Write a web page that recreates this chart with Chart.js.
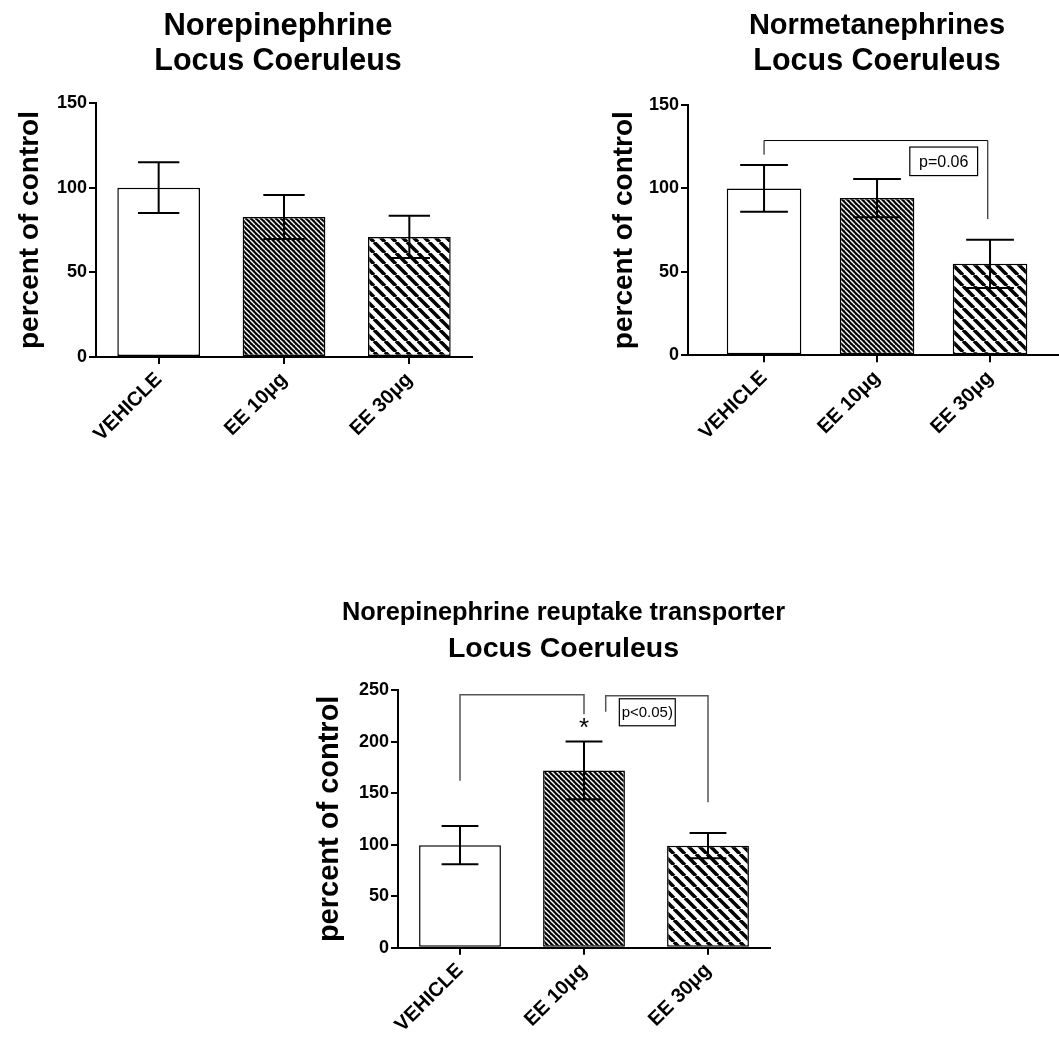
<!DOCTYPE html>
<html>
<head>
<meta charset="utf-8">
<script src="https://cdn.jsdelivr.net/npm/chart.js@4.4.1/dist/chart.umd.min.js"></script>
<style>
  html, body { margin: 0; padding: 0; background: #fff; overflow: hidden; width: 1059px; height: 1038px; }
  canvas { position: absolute; }
</style>
</head>
<body>
<canvas id="ne" width="556" height="460" style="left:0;top:0;width:556px;height:460px"></canvas>
<canvas id="nmn" width="554" height="460" style="left:600px;top:0;width:554px;height:460px"></canvas>
<canvas id="net" width="527" height="448" style="left:300px;top:590px;width:527px;height:448px"></canvas>
<script>
    "use strict";

    // groups on the x axis
    const groups = ['VEHICLE', 'EE 10μg', 'EE 30μg'];

    // Norepinephrine, locus coeruleus (% of control, mean and SEM)
    const neMean = [100, 82.7, 70.9];
    const neSem = [15, 13, 12.5];

    // Normetanephrines, locus coeruleus
    const nmnMean = [100, 94.2, 54.8];
    const nmnSem = [14, 11.5, 14.5];

    // Norepinephrine reuptake transporter, locus coeruleus
    const netMean = [99.5, 172, 99];
    const netSem = [18.5, 28, 12.3];

    // y ticks
    const yTicksTop = [0, 50, 100, 150];
    const yTicksBottom = [0, 50, 100, 150, 200, 250];

    // significance marks, in data units: [xFrom, xTo, yTop, yLeftEnd, yRightEnd]
    const nmnBrackets = [[0, 1.98, 128.7, 120.2, 81.6]];
    const nmnNote = [1.29, 1.89, 124.8, 107.7, 'p=0.06'];
    const netBrackets = [[0, 1, 245.4, 162, 226.4], [1.175, 2, 244.5, 228.9, 141]];
    const netNote = [1.285, 1.736, 241.5, 215.3, 'p<0.05)'];
    const netStar = [1, 212, '*'];

    const FONT = "'Liberation Sans', Arial, sans-serif";
    Chart.defaults.font.family = FONT;
    Chart.defaults.color = '#000';

    // hatch fills
    function stripes(size, width, bg, fg) {
        const c = document.createElement('canvas');
        c.width = c.height = size;
        const g = c.getContext('2d');
        g.fillStyle = bg;
        g.fillRect(0, 0, size, size);
        g.strokeStyle = fg;
        g.lineWidth = width;
        g.beginPath();
        for (let k = -1; k <= 1; k++) {
            g.moveTo(k * size, 0);
            g.lineTo(k * size + size, size);
        }
        g.stroke();
        return g.createPattern(c, 'repeat');
    }
    const fills = ['#ffffff', stripes(5, 1.4, '#000', '#fff'), stripes(11, 3.6, '#fff', '#000')];

    // SEM whiskers
    function errorBars(means, sems, capRatio) {
        return {
            id: 'errorBars',
            afterDatasetsDraw(chart) {
                const ctx = chart.ctx;
                const y = chart.scales.y;
                ctx.save();
                ctx.strokeStyle = '#000';
                ctx.lineWidth = 2;
                chart.getDatasetMeta(0).data.forEach(function (bar, i) {
                    const hi = y.getPixelForValue(means[i] + sems[i]);
                    const lo = y.getPixelForValue(means[i] - sems[i]);
                    const half = bar.width * capRatio / 2;
                    ctx.beginPath();
                    ctx.moveTo(bar.x, hi); ctx.lineTo(bar.x, lo);
                    ctx.moveTo(bar.x - half, hi); ctx.lineTo(bar.x + half, hi);
                    ctx.moveTo(bar.x - half, lo); ctx.lineTo(bar.x + half, lo);
                    ctx.stroke();
                });
                ctx.restore();
            }
        };
    }

    // brackets, p value box and asterisk
    function marks(brackets, note, star, style) {
        return {
            id: 'marks',
            afterDraw(chart) {
                const ctx = chart.ctx;
                const x = chart.scales.x, y = chart.scales.y;
                ctx.save();
                ctx.strokeStyle = style.line;
                ctx.lineWidth = style.width;
                brackets.forEach(function (b) {
                    const x1 = x.getPixelForValue(b[0]), x2 = x.getPixelForValue(b[1]);
                    ctx.beginPath();
                    ctx.moveTo(x1, y.getPixelForValue(b[3]));
                    ctx.lineTo(x1, y.getPixelForValue(b[2]));
                    ctx.lineTo(x2, y.getPixelForValue(b[2]));
                    ctx.lineTo(x2, y.getPixelForValue(b[4]));
                    ctx.stroke();
                });
                if (note) {
                    const l = x.getPixelForValue(note[0]), r = x.getPixelForValue(note[1]);
                    const t = y.getPixelForValue(note[2]), b = y.getPixelForValue(note[3]);
                    ctx.strokeStyle = '#000';
                    ctx.lineWidth = 1.2;
                    ctx.strokeRect(l, t, r - l, b - t);
                    ctx.fillStyle = '#000';
                    ctx.font = style.noteSize + 'px ' + FONT;
                    ctx.textAlign = 'center';
                    ctx.textBaseline = 'middle';
                    ctx.fillText(note[4], (l + r) / 2, (t + b) / 2 + 1);
                }
                if (star) {
                    ctx.fillStyle = '#000';
                    ctx.font = '26px ' + FONT;
                    ctx.textAlign = 'center';
                    ctx.textBaseline = 'middle';
                    ctx.fillText(star[2], x.getPixelForValue(star[0]), y.getPixelForValue(star[1]));
                }
                ctx.restore();
            }
        };
    }

    function panel(id, p) {
        const axisLine = { display: true, color: '#000', width: 2 };
        const tickGrid = { display: true, offset: false, drawOnChartArea: false, drawTicks: true, tickLength: 7, color: '#000', lineWidth: 2 };
        return new Chart(document.getElementById(id), {
            type: 'bar',
            data: {
                datasets: [{
                    data: p.means.map(function (v, i) { return { x: i, y: v }; }),
                    backgroundColor: fills,
                    borderColor: '#000',
                    borderWidth: 1.5,
                    borderSkipped: false,
                    barPercentage: 0.66,
                    categoryPercentage: 1
                }]
            },
            options: {
                responsive: false,
                animation: false,
                layout: { padding: 0 },
                plugins: {
                    legend: { display: false },
                    tooltip: { enabled: false },
                    title: {
                        display: true,
                        text: p.title,
                        color: '#000',
                        font: { size: p.titleSize, weight: 'bold', lineHeight: '36px' },
                        padding: { top: p.titleTop, bottom: 0 }
                    },
                    subtitle: {
                        display: true,
                        text: 'Locus Coeruleus',
                        color: '#000',
                        font: { size: p.subSize, weight: 'bold', lineHeight: '36px' },
                        padding: { top: 0, bottom: p.subBottom }
                    }
                },
                scales: {
                    x: {
                        type: 'linear',
                        min: p.xMin,
                        max: p.xMax,
                        offset: false,
                        grid: tickGrid,
                        border: axisLine,
                        afterBuildTicks: function (s) { s.ticks = groups.map(function (g, i) { return { value: i }; }); },
                        ticks: {
                            autoSkip: false,
                            minRotation: 45,
                            maxRotation: 45,
                            padding: 4,
                            color: '#000',
                            font: { size: 20, weight: 'bold' },
                            callback: function (v) { return groups[v] !== undefined ? groups[v] : ''; }
                        },
                        afterFit: function (s) { s.height = p.xHeight; }
                    },
                    y: {
                        min: 0,
                        max: p.yTicks[p.yTicks.length - 1],
                        grid: tickGrid,
                        border: axisLine,
                        afterBuildTicks: function (s) { s.ticks = p.yTicks.map(function (v) { return { value: v }; }); },
                        ticks: { padding: 2, color: '#000', font: { size: 18, weight: 'bold' } },
                        title: {
                            display: true,
                            text: 'percent of control',
                            color: '#000',
                            font: { size: p.yTitleSize, weight: 'bold', lineHeight: 1 },
                            padding: { top: p.yTitlePad, bottom: 0 }
                        },
                        afterFit: function (s) { s.width = p.yWidth; }
                    },
                    // empty box on the right so the titles sit where they do in the figure
                    spacer: {
                        type: 'linear',
                        axis: 'y',
                        position: 'right',
                        grid: { display: false },
                        border: { display: false },
                        ticks: { display: false },
                        afterFit: function (s) { s.width = p.rightSpace; }
                    }
                }
            },
            plugins: p.plugins
        });
    }

    panel('ne', {
        means: neMean, yTicks: yTicksTop,
        title: 'Norepinephrine', titleSize: 31, subSize: 30.5, titleTop: 8, subBottom: 23,
        yWidth: 96, rightSpace: 84, xHeight: 103, yTitleSize: 28, yTitlePad: 16,
        xMin: -0.5, xMax: 2.5,
        plugins: [errorBars(neMean, neSem, 0.5)]
    });

    panel('nmn', {
        means: nmnMean, yTicks: yTicksTop,
        title: 'Normetanephrines', titleSize: 29, subSize: 30.5, titleTop: 8, subBottom: 25,
        yWidth: 88, rightSpace: 0, xHeight: 104.7, yTitleSize: 28, yTitlePad: 10.7,
        xMin: -0.673, xMax: 3.451,
        plugins: [errorBars(nmnMean, nmnSem, 0.64), marks(nmnBrackets, nmnNote, null, { line: '#000', width: 1, noteSize: 16 })]
    });

    panel('net', {
        means: netMean, yTicks: yTicksBottom,
        title: 'Norepinephrine reuptake transporter', titleSize: 25.4, subSize: 28.5, titleTop: 5.2, subBottom: 22.8,
        yWidth: 98, rightSpace: 57, xHeight: 90.3, yTitleSize: 29, yTitlePad: 15,
        xMin: -0.5, xMax: 2.5,
        plugins: [errorBars(netMean, netSem, 0.45), marks(netBrackets, netNote, netStar, { line: '#555', width: 1.5, noteSize: 15 })]
    });
</script>
</body>
</html>
